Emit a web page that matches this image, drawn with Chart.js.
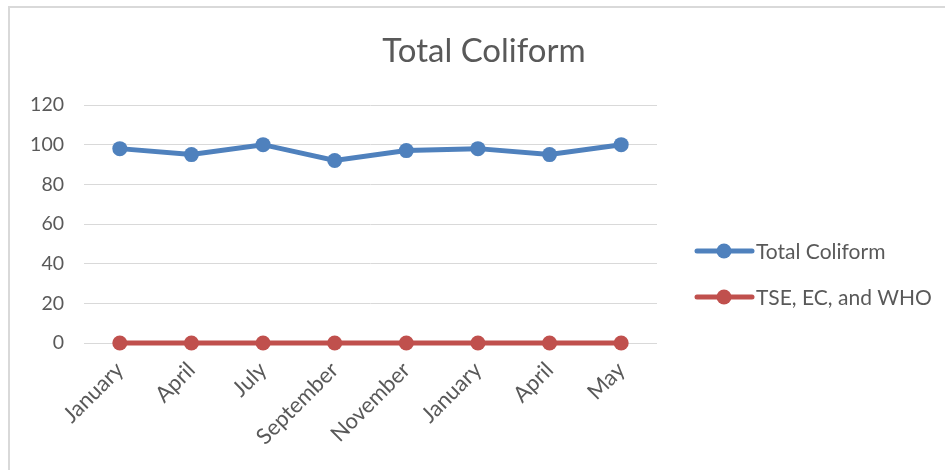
<!DOCTYPE html>
<html>
<head>
<meta charset="utf-8">
<script src="https://cdn.jsdelivr.net/npm/chart.js@4/dist/chart.umd.min.js"></script>
<style>
  html, body { margin: 0; padding: 0; background: #fff; overflow: hidden; }
  #frame {
    position: absolute; left: 8px; top: 6px; width: 950px; height: 470px;
    border-left: 2px solid #d9d9d9; border-top: 2px solid #d9d9d9;
  }
  #wrap { position: absolute; left: 0; top: 0; width: 948px; height: 462px; }
</style>
</head>
<body>
<div id="frame"><div id="wrap"><canvas id="chart"></canvas></div></div>
<script>
const meses = ['January', 'April', 'July', 'September', 'November', 'January', 'April', 'May'];
const totalColiform = [98, 95, 100, 92, 97, 98, 95, 100];
const limiteNormas = [0, 0, 0, 0, 0, 0, 0, 0];
const yTicks = [0, 20, 40, 60, 80, 100, 120];
const tituloGrafico = 'Total Coliform';

const fuente = 'Lato, "Open Sans", sans-serif';
const gris = '#595959';

// titulo centrado en todo el lienzo y leyenda propia (linea con marcador, como en Excel)
const tituloYLeyenda = {
    id: 'tituloYLeyenda',
    afterDraw(chart) {
        const ctx = chart.ctx;
        const a = chart.chartArea;
        ctx.save();
        ctx.fillStyle = gris;
        ctx.font = '33px ' + fuente;
        ctx.textAlign = 'center';
        ctx.textBaseline = 'middle';
        ctx.fillText(tituloGrafico, chart.width / 2, 43);
        ctx.restore();

        chart.data.datasets.forEach((ds, i) => {
            const x0 = a.right + 40;
            const y = a.top + 146 + i * 46;
            ctx.save();
            ctx.strokeStyle = ds.borderColor;
            ctx.lineWidth = 5;
            ctx.lineCap = 'round';
            ctx.beginPath();
            ctx.moveTo(x0, y);
            ctx.lineTo(x0 + 55, y);
            ctx.stroke();
            ctx.fillStyle = ds.borderColor;
            ctx.beginPath();
            ctx.arc(x0 + 27, y, 7.5, 0, Math.PI * 2);
            ctx.fill();
            ctx.fillStyle = gris;
            ctx.font = '21px ' + fuente;
            ctx.textBaseline = 'middle';
            ctx.fillText(ds.label, x0 + 59, y + 1);
            ctx.restore();
        });
    }
};

new Chart(document.getElementById('chart'), {
    type: 'line',
    data: {
        labels: meses,
        datasets: [{
            label: 'Total Coliform',
            data: totalColiform,
            borderColor: '#4f81bd',
            backgroundColor: '#4f81bd',
            borderWidth: 5,
            pointRadius: 7.5,
            pointHoverRadius: 7.5,
            pointBorderWidth: 0,
            tension: 0,
            clip: false
        }, {
            label: 'TSE, EC, and WHO',
            data: limiteNormas,
            borderColor: '#c0504d',
            backgroundColor: '#c0504d',
            borderWidth: 5,
            pointRadius: 7.5,
            pointHoverRadius: 7.5,
            pointBorderWidth: 0,
            tension: 0,
            clip: false
        }]
    },
    options: {
        responsive: true,
        maintainAspectRatio: false,
        animation: false,
        layout: { padding: { left: 0, right: 301, top: 97, bottom: 0 } },
        plugins: {
            legend: { display: false },
            tooltip: { enabled: false },
            title: { display: false }
        },
        scales: {
            x: {
                offset: true,
                grid: { display: false },
                border: { display: false },
                ticks: {
                    color: gris,
                    font: { family: fuente, size: 22 },
                    minRotation: 45,
                    maxRotation: 45,
                    padding: 6
                },
                afterFit(s) { s.height = 127; }
            },
            y: {
                min: 0,
                max: 120,
                afterBuildTicks(s) { s.ticks = yTicks.map(v => ({ value: v })); },
                grid: { color: '#d9d9d9', lineWidth: 1, drawTicks: false },
                border: { display: false },
                ticks: {
                    color: gris,
                    font: { family: fuente, size: 19.5 },
                    padding: 20
                },
                afterFit(s) { s.width = 74; }
            }
        }
    },
    plugins: [tituloYLeyenda]
});
</script>
</body>
</html>
